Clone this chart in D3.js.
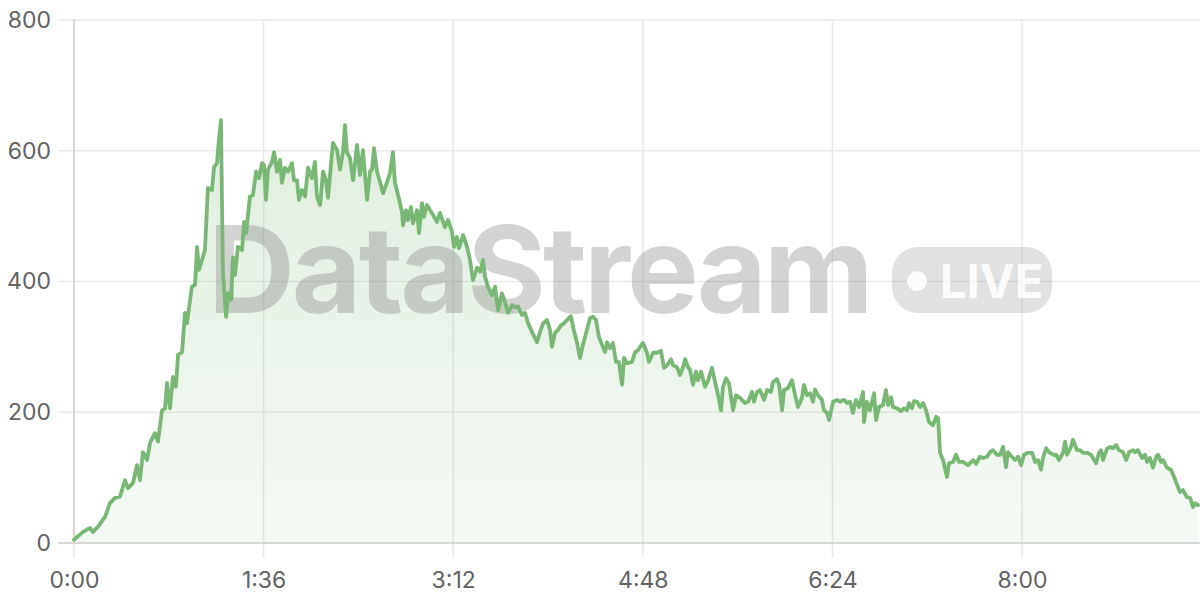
<!DOCTYPE html>
<html><head><meta charset="utf-8">
<script src="https://cdn.jsdelivr.net/npm/d3@7"></script>
<style>html,body{margin:0;background:#fff}svg{display:block}</style>
</head><body>
<svg id="chart" width="1200" height="600"></svg>
<script>
// time in seconds
const times = [0,4.6,8.1,9.6,12.2,15.7,18.2,20.8,23.3,25.8,27.3,29.9,31.9,33.4,34.9,37.0,38.5,41.0,42.5,44.6,46.1,47.1,48.6,50.1,51.6,52.7,54.7,56.2,57.2,59.7,61.3,62.3,63.3,64.8,66.3,67.8,69.9,70.9,72.4,72.9,74.4,75.4,77.0,78.0,79.5,80.5,81.5,83.0,85.1,86.1,87.1,89.1,90.6,92.2,93.7,
95.2,96.2,97.2,98.2,100.3,101.3,102.8,104.3,105.3,106.8,108.4,110.4,111.4,112.9,113.9,115.4,117.0,118.5,120.5,122.0,123.0,124.6,126.1,127.6,128.6,130.1,131.1,133.2,134.7,136.2,137.2,138.2,139.7,141.3,143.3,144.8,146.3,148.4,149.9,150.9,151.9,153.4,154.4,156.5,158.5,160.0,161.5,162.5,164.1,166.1,166.6,168.1,169.1,170.6,171.6,173.7,174.7,176.2,177.2,178.7,180.3,181.8,183.8,
185.3,187.8,189.4,191.4,192.4,193.9,194.9,197.0,199.0,200.5,202.0,204.1,205.6,207.1,208.1,209.6,211.6,213.2,214.7,216.7,218.2,219.7,221.8,223.3,224.8,226.8,228.4,229.9,231.9,234.4,236.0,237.5,239.5,241.0,242.0,243.5,245.1,246.6,248.1,249.6,251.6,252.7,254.7,256.2,257.7,259.7,261.3,262.8,264.3,265.8,267.8,268.9,269.9,271.4,272.9,274.4,275.9,277.5,278.5,280.0,282.5,284.1,285.6,
286.6,288.1,290.1,291.1,293.2,295.2,297.2,298.7,300.3,302.3,303.3,305.3,306.8,308.4,309.4,310.9,311.9,313.4,314.9,315.9,317.5,319.5,321.0,323.0,324.6,326.1,327.6,328.6,330.1,331.6,333.7,335.2,337.2,339.7,341.3,343.3,344.3,345.8,347.3,349.4,350.9,352.9,353.9,355.9,357.0,358.5,359.5,361.5,363.5,365.1,366.6,368.6,369.6,371.1,372.7,374.2,375.2,376.7,378.7,379.7,381.3,382.3,384.3,386.3,
387.8,389.9,391.4,392.9,394.4,395.9,397.5,399.5,400.0,401.5,403.0,405.1,406.1,407.6,409.6,411.1,412.2,413.7,414.7,416.7,418.7,420.3,421.8,422.8,424.3,425.3,426.8,428.4,429.9,431.4,432.9,434.9,436.5,437.5,438.5,440.0,442.0,443.0,445.1,446.6,448.1,450.1,452.7,455.2,456.7,458.7,460.3,462.3,463.8,465.3,467.3,
468.9,470.4,471.9,472.9,474.9,476.5,478.0,479.5,481.0,483.0,485.1,486.6,488.1,489.6,490.6,492.2,493.7,495.7,497.2,498.7,500.8,501.8,502.8,504.8,505.8,507.8,509.4,510.9,512.9,514.9,515.9,517.5,519.0,520.0,521.0,523.0,524.6,526.1,527.6,529.1,531.1,532.7,534.2,536.2,537.2,538.7,540.8,542.3,543.3,544.8,546.3,547.9,548.9,550.4,551.4,553.4,555.4,557.0,558.5,560.0,561.5,563.5,565.1,566.6,567.6,569.1];

const values = [5,17,23,17,25,40,61,69,71,96,84,92,119,96,139,127,153,168,155,203,206,245,206,254,239,288,292,352,336,392,395,453,418,433,448,543,540,575,581,601,647,413,346,382,372,437,410,453,448,491,474,530,532,568,558,
581,578,525,571,583,598,568,586,551,574,568,581,555,555,525,540,530,574,558,583,530,517,568,555,528,578,612,601,571,598,639,598,589,555,609,563,601,525,568,571,604,568,558,535,552,566,598,551,532,506,486,509,494,514,489,509,474,520,499,517,509,502,491,
505,483,494,476,453,468,451,471,453,433,402,421,415,433,407,392,379,392,356,382,369,352,364,361,362,349,352,336,323,307,323,336,341,326,300,321,326,333,336,341,347,330,306,283,303,326,344,346,341,315,300,292,307,298,306,277,277,242,283,275,277,292,295,
300,306,291,277,291,291,294,268,272,281,272,269,257,269,281,269,265,242,262,249,262,239,248,268,246,226,203,239,252,245,203,226,222,214,216,231,216,231,234,219,234,231,246,251,242,203,234,237,249,226,208,222,242,226,229,216,235,226,219,203,199,188,216,219,
216,219,214,216,199,219,208,231,185,216,203,229,188,208,211,234,211,223,208,206,202,206,203,214,206,217,216,208,214,203,185,180,193,191,138,127,101,122,124,135,124,124,119,127,121,132,130,132,139,142,135,
135,147,116,139,132,127,132,119,135,138,138,124,127,112,130,145,139,135,135,127,138,155,135,147,158,142,142,138,138,135,130,122,138,142,127,144,147,145,150,142,139,127,139,142,139,142,130,135,124,130,115,132,135,124,127,115,112,101,89,78,81,70,69,55,61,58];

const yTicks = [0, 200, 400, 600, 800];
const xTicks = [0, 96, 192, 288, 384, 480];
const xTickLabels = ["0:00", "1:36", "3:12", "4:48", "6:24", "8:00"];
const watermarkText = "DataStream";
const badgeText = "LIVE";

const W = 1200, H = 600;
const m = {top: 20, right: 2, bottom: 57, left: 74};
const svg = d3.select("#chart");
const data = times.map((t, i) => ({t, v: values[i]}));

const x = d3.scaleLinear().domain([0, d3.max(times)]).range([m.left, W - m.right]);
const y = d3.scaleLinear().domain([0, 800]).range([H - m.bottom, m.top]);

const FONT = "Inter, 'Open Sans', 'Liberation Sans', sans-serif";
const GREEN = "#78b874";

// gradient
const defs = svg.append("defs");
const grad = defs.append("linearGradient").attr("id", "areaGrad")
  .attr("gradientUnits", "userSpaceOnUse")
  .attr("x1", 0).attr("x2", 0).attr("y1", y(650)).attr("y2", y(0));
grad.append("stop").attr("offset", "0%").attr("stop-color", GREEN).attr("stop-opacity", 0.24);
grad.append("stop").attr("offset", "100%").attr("stop-color", GREEN).attr("stop-opacity", 0.07);

// grid
const grid = svg.append("g");
grid.selectAll(".hg").data(yTicks).join("line")
  .attr("x1", m.left - 16).attr("x2", W).attr("y1", d => y(d)).attr("y2", d => y(d))
  .attr("stroke", "#e9e9e9").attr("stroke-width", 1.5);
grid.selectAll(".vg").data(xTicks).join("line")
  .attr("x1", d => x(d)).attr("x2", d => x(d)).attr("y1", m.top).attr("y2", H - m.bottom + 15)
  .attr("stroke", "#e9e9e9").attr("stroke-width", 1.5);

// area
svg.append("path").datum(data)
  .attr("fill", "url(#areaGrad)")
  .attr("d", d3.area().x(d => x(d.t)).y0(y(0)).y1(d => y(d.v)));

// axis lines
svg.append("line").attr("x1", m.left).attr("x2", m.left).attr("y1", m.top).attr("y2", H - m.bottom)
  .attr("stroke", "#d0d0d0").attr("stroke-width", 1.5);
svg.append("line").attr("x1", m.left - 16).attr("x2", W).attr("y1", y(0)).attr("y2", y(0))
  .attr("stroke", "#d0d0d0").attr("stroke-width", 1.5);

// axes (labels)
const yAxis = svg.append("g").attr("transform", `translate(${m.left},0)`)
  .call(d3.axisLeft(y).tickValues(yTicks).tickSize(16).tickPadding(7));
const xAxis = svg.append("g").attr("transform", `translate(0,${H - m.bottom})`)
  .call(d3.axisBottom(x).tickValues(xTicks).tickSize(15).tickPadding(14).tickFormat((d, i) => xTickLabels[i]));
[yAxis, xAxis].forEach(g => {
  g.select(".domain").remove();
  g.selectAll(".tick line").attr("stroke", "none");
  g.selectAll("text").attr("fill", "#626262").style("font-family", FONT).style("font-size", "23px");
});

// watermark
const wm = svg.append("g").attr("pointer-events", "none");
const wt = wm.append("text").text(watermarkText)
  .attr("x", 208).attr("y", 313)
  .style("font-family", "Inter, 'Liberation Sans', Arial, sans-serif")
  .style("font-weight", 700).style("font-size", "118px").style("letter-spacing", "-3px")
  .attr("fill", "#777").attr("fill-opacity", 0.32);
const tw = wt.node().getComputedTextLength();
const target = 870 - 208;
wt.style("font-size", (118 * target / tw) + "px");

wm.append("rect").attr("x", 892).attr("y", 247).attr("width", 160).attr("height", 66)
  .attr("rx", 26).attr("fill", "#777").attr("fill-opacity", 0.22);
wm.append("circle").attr("cx", 917).attr("cy", 281).attr("r", 10).attr("fill", "#fff").attr("fill-opacity", 0.9);
wm.append("text").text(badgeText).attr("x", 940).attr("y", 298)
  .style("font-family", "Inter, 'Liberation Sans', Arial, sans-serif")
  .style("font-weight", 700).style("font-size", "47px")
  .attr("fill", "#fff").attr("fill-opacity", 0.9);

// line
svg.append("path").datum(data)
  .attr("fill", "none").attr("stroke", GREEN).attr("stroke-width", 3.8)
  .attr("stroke-linejoin", "round").attr("stroke-linecap", "round")
  .attr("d", d3.line().x(d => x(d.t)).y(d => y(d.v)));
</script>
</body></html>
